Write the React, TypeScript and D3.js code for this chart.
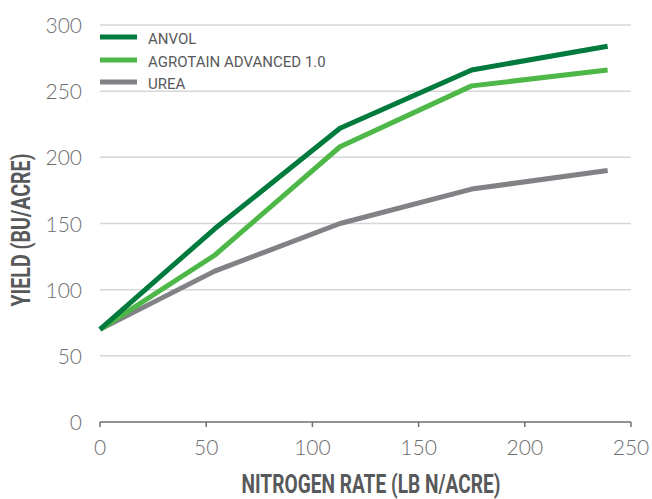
import React from 'react'
import * as d3 from 'd3'

const rates = [0, 54, 113, 175, 239]
const anvol = [70, 146, 222, 266, 284]
const agrotain = [70, 126, 208, 254, 266]
const urea = [70, 114, 150, 176, 190]

const seriesNames = ['ANVOL', 'AGROTAIN ADVANCED 1.0', 'UREA']
const seriesColors = ['#007a3d', '#4db848', '#808285']
const seriesValues = [anvol, agrotain, urea]

const xTicks = [0, 50, 100, 150, 200, 250]
const yTicks = [0, 50, 100, 150, 200, 250, 300]

const W = 652
const H = 499
const narrow = 'Roboto, "Noto Sans", sans-serif'
const light = 'Lato, "Open Sans", sans-serif'

// condensed look: squeeze the text horizontally
function Condensed({ x, y, size, weight, anchor, children, squeeze = 0.78 }) {
    return (
        <g transform={`translate(${x}, ${y}) scale(${squeeze}, 1)`}>
            <text x={0} y={0} textAnchor={anchor} fontFamily={narrow} fontWeight={weight}
                fontSize={size} fill='#58595b'>{children}</text>
        </g>
    )
}

export default function App() {
    const x = d3.scaleLinear().domain([0, 250]).range([100, 631])
    const y = d3.scaleLinear().domain([0, 300]).range([422, 25])

    const line = d3.line<number>()
        .x((_, i) => x(rates[i]))
        .y(d => y(d))

    return (
        <svg width={W} height={H} style={{ position: 'absolute', left: 0, top: 0 }}>
            {/* gridlines */}
            {yTicks.filter(t => t > 0).map(t => (
                <line key={t} x1={x(0)} x2={x(250)} y1={y(t)} y2={y(t)}
                    stroke='#d6d6d6' strokeWidth={1.5} />
            ))}
            {/* x axis */}
            <line x1={x(0)} x2={x(250)} y1={y(0)} y2={y(0)} stroke='#6d6e70' strokeWidth={1.5} />
            {xTicks.map(t => (
                <g key={t}>
                    <line x1={x(t)} x2={x(t)} y1={y(0)} y2={y(0) + 5} stroke='#6d6e70' strokeWidth={1.5} />
                    <text x={x(t)} y={455} textAnchor='middle' fontFamily={light} fontWeight={300}
                        fontSize={21} fill='#6d6e70'>{t}</text>
                </g>
            ))}
            {yTicks.map(t => (
                <text key={t} x={82} y={y(t) + 8} textAnchor='end' fontFamily={light} fontWeight={300}
                    fontSize={21} fill='#6d6e70'>{t}</text>
            ))}
            {/* series */}
            {seriesValues.map((vals, i) => (
                <path key={seriesNames[i]} d={line(vals) || ''} fill='none'
                    stroke={seriesColors[i]} strokeWidth={5} strokeLinejoin='round' />
            )).reverse()}
            {/* legend */}
            {seriesNames.map((name, i) => {
                const ly = [37, 60, 82][i]
                return (
                    <g key={name}>
                        <line x1={100} x2={137} y1={ly} y2={ly} stroke={seriesColors[i]} strokeWidth={5} />
                        <Condensed x={148} y={ly + 7} size={15.5} weight={400} anchor='start' squeeze={0.97}>{name}</Condensed>
                    </g>
                )
            })}
            {/* axis titles */}
            <Condensed x={371} y={493} size={25} weight={700} anchor='middle' squeeze={0.765}>
                NITROGEN RATE (LB N/ACRE)
            </Condensed>
            <g transform='translate(29.5, 230) rotate(-90)'>
                <Condensed x={0} y={0} size={25} weight={700} anchor='middle' squeeze={0.785}>
                    YIELD (BU/ACRE)
                </Condensed>
            </g>
        </svg>
    )
}
